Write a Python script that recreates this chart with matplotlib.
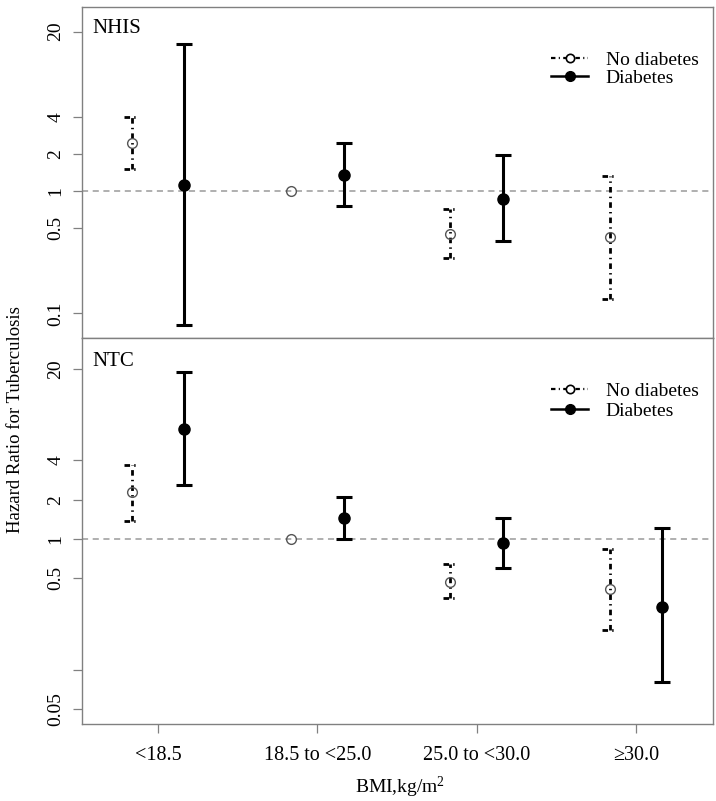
import numpy as np
import matplotlib
matplotlib.use("Agg")
import matplotlib.pyplot as plt
from matplotlib.lines import Line2D

plt.rcParams['font.family'] = ['Liberation Serif', 'DejaVu Serif']
plt.rcParams['mathtext.fontset'] = 'custom'
plt.rcParams['mathtext.rm'] = 'Liberation Serif'
plt.rcParams['mathtext.it'] = 'Liberation Serif'

nan = np.nan

# --- Data ---
categories = ["<18.5", "18.5 to <25.0", "25.0 to <30.0", "\u226530.0"]

nhis_nd_hr = [2.48, 1.0, 0.443, 0.424]
nhis_nd_lo = [1.51, nan, 0.286, 0.132]
nhis_nd_hi = [4.04, nan, 0.713, 1.33]
nhis_d_hr = [1.11, 1.36, 0.86, nan]
nhis_d_lo = [0.081, 0.755, 0.389, nan]
nhis_d_hi = [15.8, 2.45, 1.955, nan]

ntc_nd_hr = [2.28, 1.0, 0.471, 0.412]
ntc_nd_lo = [1.38, nan, 0.356, 0.201]
ntc_nd_hi = [3.68, nan, 0.640, 0.834]
ntc_d_hr = [6.98, 1.45, 0.927, 0.303]
ntc_d_lo = [2.60, 1.0, 0.597, 0.0805]
ntc_d_hi = [19.05, 2.11, 1.44, 1.22]

nhis_ticks = [0.1, 0.5, 1, 2, 4, 20]
nhis_ticklabels = ["0.1", "0.5", "1", "2", "4", "20"]
ntc_ticks = [0.05, 0.1, 0.5, 1, 2, 4, 20]
ntc_ticklabels = ["0.05", "", "0.5", "1", "2", "4", "20"]

GREY = "#808080"
DOTDASH = (0, (2.0, 1.5, 0.5, 1.5))
OFFSET = 0.166
CAP_W = 0.047


def draw_panel(ax, nd_hr, nd_lo, nd_hi, d_hr, d_lo, d_hi, ticks, ticklabels, ylim, name,
               leg_y, leg_space):
    x = np.arange(1, len(categories) + 1)
    x_nd = x - OFFSET
    x_d = x + OFFSET
    nd_hr, nd_lo, nd_hi = map(np.array, (nd_hr, nd_lo, nd_hi))
    d_hr, d_lo, d_hi = map(np.array, (d_hr, d_lo, d_hi))

    ax.axhline(1, color="#9a9a9a", lw=1.1, ls=(0, (4, 3)), zorder=1)

    # no diabetes: dot-dash bars with dot-dash caps
    ax.vlines(x_nd, nd_lo, nd_hi, colors="black", linestyles=DOTDASH, lw=2.0, zorder=2)
    ax.hlines(nd_lo, x_nd - CAP_W, x_nd + CAP_W, colors="black", linestyles=DOTDASH, lw=2.0, zorder=2)
    ax.hlines(nd_hi, x_nd - CAP_W, x_nd + CAP_W, colors="black", linestyles=DOTDASH, lw=2.0, zorder=2)
    ax.plot(x_nd, nd_hr, ls="none", marker="o", ms=7, mfc="none", mec="#555555", mew=1.0, zorder=3)

    # diabetes: solid bars
    ax.errorbar(x_d, d_hr, yerr=[d_hr - d_lo, d_hi - d_hr], fmt="o", color="black", ms=8,
                elinewidth=2.2, capsize=6, capthick=2.2, zorder=3)

    ax.set_yscale("log")
    ax.set_ylim(*ylim)
    ax.set_xlim(0.523, 4.483)
    ax.set_yticks(ticks)
    ax.set_yticklabels(ticklabels, rotation=90, va="center", fontsize=14)
    ax.yaxis.set_minor_locator(matplotlib.ticker.NullLocator())
    ax.tick_params(axis="y", length=6.5, width=0.9, color=GREY, pad=6)
    for s in ax.spines.values():
        s.set_color(GREY)
        s.set_linewidth(1.0)

    ax.text(0.016, 0.965, name, transform=ax.transAxes, ha="left", va="top", fontsize=15)

    handles = [
        Line2D([], [], color="black", ls=DOTDASH, lw=1.6, marker="o", ms=6, mfc="white", mec="black", mew=1.2),
        Line2D([], [], color="black", ls="-", lw=1.8, marker="o", ms=7, mfc="black", mec="black"),
    ]
    ax.legend(handles, ["No diabetes", "Diabetes"], loc="upper left", bbox_to_anchor=(0.728, leg_y),
              frameon=False, fontsize=14, borderpad=0, handlelength=1.9, handletextpad=0.9,
              labelspacing=leg_space)


fig = plt.figure(figsize=(7.16, 8.01), dpi=100)
ax_top = fig.add_axes([0.1145, 0.578, 0.8813, 0.4132])
ax_bot = fig.add_axes([0.1145, 0.0961, 0.8813, 0.4819])

draw_panel(ax_top, nhis_nd_hr, nhis_nd_lo, nhis_nd_hi, nhis_d_hr, nhis_d_lo, nhis_d_hi,
           nhis_ticks, nhis_ticklabels, (0.063, 31.7), "NHIS", 0.895, 0.0)
draw_panel(ax_bot, ntc_nd_hr, ntc_nd_lo, ntc_nd_hi, ntc_d_hr, ntc_d_lo, ntc_d_hi,
           ntc_ticks, ntc_ticklabels, (0.0384, 34.5), "NTC", 0.91, 0.1)

ax_top.tick_params(axis="x", bottom=False, labelbottom=False)
ax_bot.set_xticks(np.arange(1, len(categories) + 1))
ax_bot.set_xticklabels(categories, fontsize=14.5)
ax_bot.tick_params(axis="x", length=6.5, width=0.9, color=GREY, pad=9)

fig.text(0.5587, 0.010, "BMI,kg/m$^2$", ha="center", va="baseline", fontsize=14)
fig.text(0.021, 0.476, "Hazard Ratio for Tuberculosis", rotation=90, ha="center", va="center", fontsize=13.5)

fig.savefig("out.png", dpi=100)
